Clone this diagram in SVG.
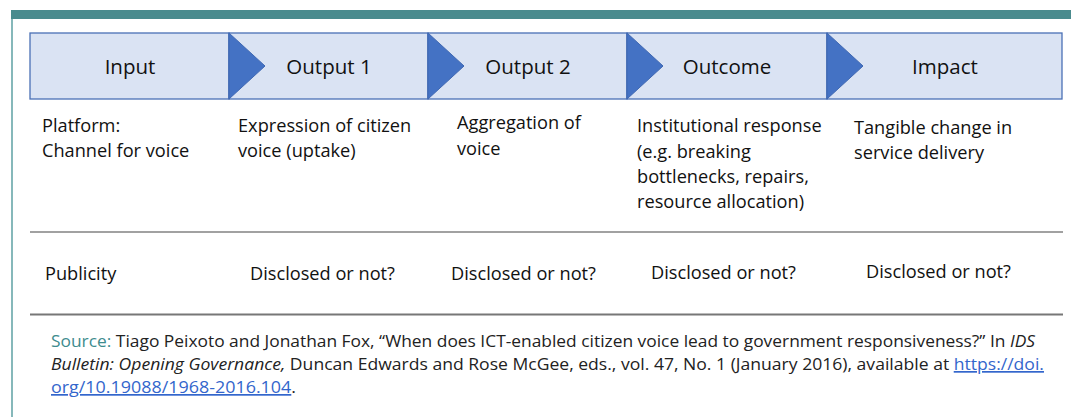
<svg xmlns="http://www.w3.org/2000/svg" width="1071" height="417" viewBox="0 0 1071 417">
<style>
.box{fill:#DAE3F3;stroke:#4A70B5;stroke-width:1.3}
.tri{fill:#4472C4;stroke:#3F68B2;stroke-width:1}
.hd{font-family:"Open Sans","Liberation Sans",sans-serif;font-size:20.5px;fill:#111;text-anchor:middle}
.t{font-family:"Open Sans","Liberation Sans",sans-serif;font-size:18.2px;fill:#111}
.src{font-family:"Open Sans","Liberation Sans",sans-serif;font-size:17px;fill:#222}
.teal{fill:#3E8C8E}
.link{fill:#3366CC;text-decoration:underline}
</style>
<rect x="0" y="0" width="1071" height="417" fill="#fff"/>
<rect x="11" y="10" width="1060" height="9" fill="#4A8B8E"/>
<rect x="11" y="19" width="2" height="398" fill="#86B8BA"/>

<g id="node-input"><rect class="box" x="30" y="33" width="199" height="66"/><text class="hd" x="130" y="74">Input</text></g>
<g id="node-output1"><rect class="box" x="229" y="33" width="199" height="66"/><text class="hd" x="329" y="74">Output 1</text></g>
<g id="node-output2"><rect class="box" x="428" y="33" width="199" height="66"/><text class="hd" x="528" y="74">Output 2</text></g>
<g id="node-outcome"><rect class="box" x="627" y="33" width="200" height="66"/><text class="hd" x="727" y="74">Outcome</text></g>
<g id="node-impact"><rect class="box" x="827" y="33" width="235" height="66"/><text class="hd" x="945" y="74">Impact</text></g>

<g id="connectors">
<polygon class="tri" points="229,33 265,66 229,99"/>
<polygon class="tri" points="428,33 464,66 428,99"/>
<polygon class="tri" points="627,33 663,66 627,99"/>
<polygon class="tri" points="827,33 863,66 827,99"/>
</g>

<g id="descriptions">
<text class="t" x="42" y="132">Platform:</text>
<text class="t" x="42" y="157">Channel for voice</text>
<text class="t" x="238" y="132">Expression of citizen</text>
<text class="t" x="238" y="157">voice (uptake)</text>
<text class="t" x="457" y="129">Aggregation of</text>
<text class="t" x="457" y="155">voice</text>
<text class="t" x="637" y="132">Institutional response</text>
<text class="t" x="637" y="158">(e.g. breaking</text>
<text class="t" x="637" y="183">bottlenecks, repairs,</text>
<text class="t" x="637" y="208">resource allocation)</text>
<text class="t" x="854" y="134">Tangible change in</text>
<text class="t" x="854" y="159">service delivery</text>
</g>

<line x1="30" y1="232" x2="1063" y2="232" stroke="#444" stroke-width="1.2"/>

<g id="publicity">
<text class="t" x="45" y="280">Publicity</text>
<text class="t" x="250" y="280">Disclosed or not?</text>
<text class="t" x="451" y="280">Disclosed or not?</text>
<text class="t" x="651" y="279">Disclosed or not?</text>
<text class="t" x="866" y="278">Disclosed or not?</text>
</g>

<line x1="30" y1="314.5" x2="1063" y2="314.5" stroke="#777" stroke-width="2"/>

<g id="source">
<text class="src" x="51" y="347" textLength="984" lengthAdjust="spacingAndGlyphs"><tspan class="teal">Source:</tspan> Tiago Peixoto and Jonathan Fox, “When does ICT-enabled citizen voice lead to government responsiveness?” In <tspan font-style="italic">IDS</tspan></text>
<text class="src" x="51" y="370" textLength="993" lengthAdjust="spacingAndGlyphs"><tspan font-style="italic">Bulletin: Opening Governance,</tspan> Duncan Edwards and Rose McGee, eds., vol. 47, No. 1 (January 2016), available at <tspan class="link">https://doi.</tspan></text>
<text class="src" x="51" y="393" textLength="245" lengthAdjust="spacingAndGlyphs"><tspan class="link">org/10.19088/1968-2016.104</tspan>.</text>
</g>
</svg>
